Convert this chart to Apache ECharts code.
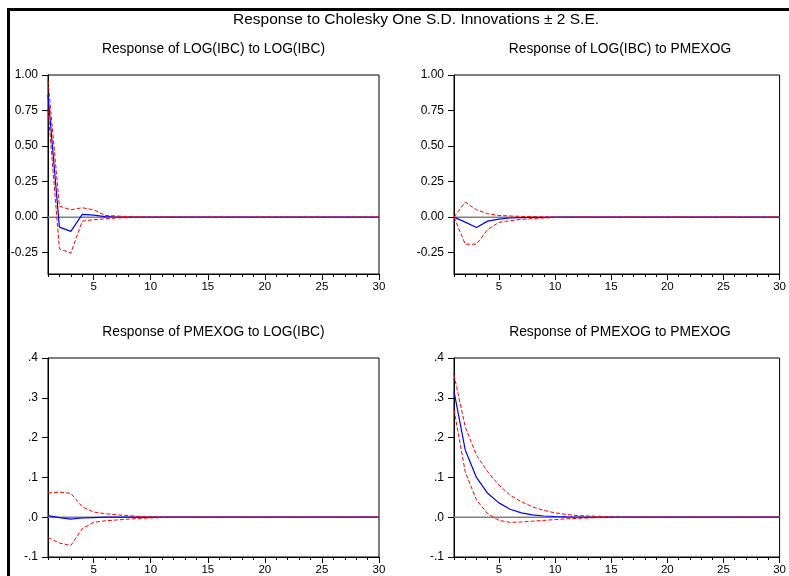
<!DOCTYPE html>
<html>
<head>
<meta charset="utf-8">
<script src="https://cdn.jsdelivr.net/npm/echarts@6/dist/echarts.min.js"></script>
<style>
html,body{margin:0;padding:0;background:#fff;}
#c{width:789px;height:576px;}
</style>
</head>
<body>
<div id="c"></div>
<script>
const mainTitle = "Response to Cholesky One S.D. Innovations \u00b1 2 S.E.";
const panelTitles = [
  "Response of LOG(IBC) to LOG(IBC)",
  "Response of LOG(IBC) to PMEXOG",
  "Response of PMEXOG to LOG(IBC)",
  "Response of PMEXOG to PMEXOG"
];
const periods = [1,2,3,4,5,6,7,8,9,10,11,12,13,14,15,16,17,18,19,20,21,22,23,24,25,26,27,28,29,30];
const xLabelTicks = [5,10,15,20,25,30];
const yTicksTop = [-0.25,0,0.25,0.5,0.75,1.0];

// Response of LOG(IBC) to LOG(IBC)
const resp11 = [0.86,-0.07,-0.10,0.019,0.014,0.004,0.001,0.0005,0,0,0,0,0,0,0,0,0,0,0,0,0,0,0,0,0,0,0,0,0,0];
const up11   = [0.96,0.077,0.052,0.066,0.052,0.012,0.008,0.004,0.002,0.001,0.0005,0,0,0,0,0,0,0,0,0,0,0,0,0,0,0,0,0,0,0];
const lo11   = [0.76,-0.223,-0.253,-0.028,-0.018,-0.012,-0.006,-0.003,-0.002,-0.001,0,0,0,0,0,0,0,0,0,0,0,0,0,0,0,0,0,0,0,0];
// Response of LOG(IBC) to PMEXOG
const resp12 = [0,-0.035,-0.073,-0.028,-0.014,-0.006,-0.003,-0.002,-0.001,0,0,0,0,0,0,0,0,0,0,0,0,0,0,0,0,0,0,0,0,0];
const up12   = [0,0.106,0.052,0.024,0.012,0.008,0.005,0.003,0.002,0.001,0,0,0,0,0,0,0,0,0,0,0,0,0,0,0,0,0,0,0,0];
const lo12   = [0,-0.19,-0.19,-0.087,-0.037,-0.025,-0.016,-0.010,-0.006,-0.003,-0.001,0,0,0,0,0,0,0,0,0,0,0,0,0,0,0,0,0,0,0];
// Response of PMEXOG to LOG(IBC)
const resp21 = [0.004,-0.001,-0.005,-0.002,-0.001,0,0,0,0,0,0,0,0,0,0,0,0,0,0,0,0,0,0,0,0,0,0,0,0,0];
const up21   = [0.061,0.063,0.060,0.026,0.013,0.009,0.006,0.004,0.002,0.001,0.0005,0,0,0,0,0,0,0,0,0,0,0,0,0,0,0,0,0,0,0];
const lo21   = [-0.051,-0.065,-0.071,-0.029,-0.013,-0.009,-0.007,-0.005,-0.003,-0.002,-0.001,0,0,0,0,0,0,0,0,0,0,0,0,0,0,0,0,0,0,0];
// Response of PMEXOG to PMEXOG
const resp22 = [0.316,0.169,0.100,0.060,0.036,0.020,0.011,0.006,0.003,0.0017,0.001,0.0005,0.0003,0.0002,0.0001,0,0,0,0,0,0,0,0,0,0,0,0,0,0,0];
const up22   = [0.358,0.227,0.156,0.114,0.081,0.055,0.039,0.026,0.017,0.011,0.007,0.004,0.003,0.002,0.001,0.0005,0,0,0,0,0,0,0,0,0,0,0,0,0,0];
const lo22   = [0.27,0.114,0.043,0.009,-0.008,-0.013,-0.012,-0.010,-0.008,-0.006,-0.004,-0.003,-0.002,-0.001,-0.001,-0.0005,0,0,0,0,0,0,0,0,0,0,0,0,0,0];

const FONT = "'Liberation Sans', Arial, sans-serif";
const panels = [
  {resp: resp11, up: up11, lo: lo11, top: true},
  {resp: resp12, up: up12, lo: lo12, top: true},
  {resp: resp21, up: up21, lo: lo21, top: false},
  {resp: resp22, up: up22, lo: lo22, top: false}
];
const grids = [
  {left: 48, top: 75, width: 331, height: 199},
  {left: 454, top: 75, width: 332, height: 199},
  {left: 48, top: 358, width: 331, height: 199},
  {left: 454, top: 358, width: 332, height: 199}
];

const chart = echarts.init(document.getElementById('c'), null, {renderer: 'canvas'});
const xAxis = [], yAxis = [], series = [], grid = [];
const titleCenters = [[213.5, 49], [620, 49], [213.5, 332], [620, 332]];

panels.forEach((p, i) => {
  grid.push(Object.assign({show: true, borderColor: '#000', borderWidth: 1, backgroundColor: '#fff', containLabel: false}, grids[i]));
  // main x axis
  xAxis.push({
    type: 'value', gridIndex: i, min: 1, max: 30, position: 'bottom',
    axisLine: {show: true, onZero: false, lineStyle: {color: '#000', width: 1}},
    axisTick: {show: true, inside: false, length: 6, customValues: xLabelTicks, lineStyle: {color: '#000'}},
    axisLabel: {show: true, customValues: xLabelTicks, margin: 7, color: '#000', fontSize: 11.5, fontFamily: FONT},
    splitLine: {show: false}
  });
  // minor tick axis
  xAxis.push({
    type: 'value', gridIndex: i, min: 1, max: 30, position: 'bottom',
    axisLine: {show: false, onZero: false},
    axisTick: {show: true, inside: false, length: 3, customValues: periods, lineStyle: {color: '#000'}},
    axisLabel: {show: false},
    splitLine: {show: false}
  });
  if (p.top) {
    yAxis.push({
      type: 'value', gridIndex: i, min: -0.4, max: 1.0,
      axisLine: {show: true, onZero: false, lineStyle: {color: '#000'}},
      axisTick: {show: true, length: 6, customValues: yTicksTop, lineStyle: {color: '#000'}},
      axisLabel: {customValues: yTicksTop, margin: 10, color: '#000', fontSize: 12, fontFamily: FONT,
        formatter: v => v.toFixed(2)},
      splitLine: {show: false}
    });
  } else {
    yAxis.push({
      type: 'value', gridIndex: i, min: -0.1, max: 0.4, interval: 0.1,
      axisLine: {show: true, onZero: false, lineStyle: {color: '#000'}},
      axisTick: {show: true, length: 6, lineStyle: {color: '#000'}},
      axisLabel: {margin: 10, color: '#000', fontSize: 12, fontFamily: FONT,
        formatter: v => v.toFixed(1).replace('0.', '.')},
      splitLine: {show: false}
    });
  }
  const xi = i * 2;
  const mk = arr => periods.map((t, k) => [t, arr[k]]);
  series.push({
    type: 'line', xAxisIndex: xi, yAxisIndex: i, data: [[periods[0], 0], [periods[periods.length - 1], 0]],
    symbol: 'none', silent: true, lineStyle: {color: '#7f7f7f', width: 1.5}, z: 1
  });
  series.push({
    type: 'line', xAxisIndex: xi, yAxisIndex: i, data: mk(p.up),
    symbol: 'none', lineStyle: {color: '#ff0000', width: 1, type: [4, 2]}, z: 3
  });
  series.push({
    type: 'line', xAxisIndex: xi, yAxisIndex: i, data: mk(p.lo),
    symbol: 'none', lineStyle: {color: '#ff0000', width: 1, type: [4, 2]}, z: 3
  });
  series.push({
    type: 'line', xAxisIndex: xi, yAxisIndex: i, data: mk(p.resp),
    symbol: 'none', lineStyle: {color: '#0000ff', width: 1.2}, z: 2
  });
});

const graphic = [
  {type: 'rect', shape: {x: 8.5, y: 9.5, width: 1000, height: 800}, style: {fill: null, stroke: '#000', lineWidth: 3}, z: 100, silent: true},
  {type: 'text', x: 416, y: 20, style: {text: mainTitle, textAlign: 'center', textVerticalAlign: 'middle', font: "15.5px " + FONT, fill: '#000'}}
];
panelTitles.forEach((t, i) => {
  graphic.push({type: 'text', x: titleCenters[i][0], y: titleCenters[i][1],
    style: {text: t, textAlign: 'center', textVerticalAlign: 'middle', font: "13.8px " + FONT, fill: '#000'}});
});

chart.setOption({
  animation: false,
  backgroundColor: '#fff',
  grid, xAxis, yAxis, series, graphic
});
</script>
</body>
</html>
